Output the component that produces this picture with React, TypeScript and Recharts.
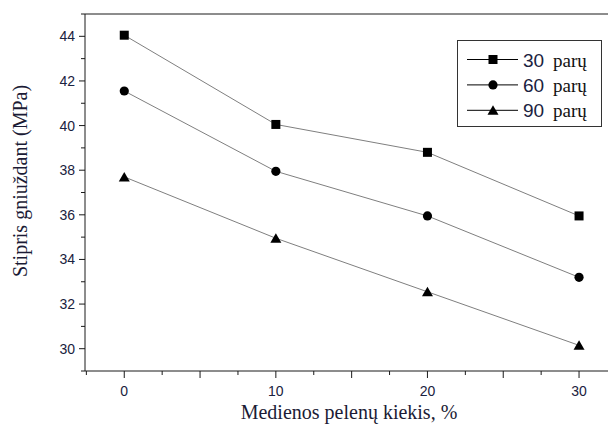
import { Legend, Line, LineChart, ReferenceLine, XAxis, YAxis } from 'recharts';

// Compressive strength vs. wood ash content, after 30 / 60 / 90 days of curing
const ashContent = [0, 10, 20, 30];
const strength30 = [44.05, 40.05, 38.8, 35.95];
const strength60 = [41.55, 37.95, 35.95, 33.2];
const strength90 = [37.7, 34.95, 32.55, 30.15];

const xTicks = [-2.5, 0, 2.5, 5, 7.5, 10, 12.5, 15, 17.5, 20, 22.5, 25, 27.5, 30];
const yTicks = [29, 30, 31, 32, 33, 34, 35, 36, 37, 38, 39, 40, 41, 42, 43, 44, 45];

const series = [
  { key: 's30', days: '30', shape: 'square' },
  { key: 's60', days: '60', shape: 'circle' },
  { key: 's90', days: '90', shape: 'triangle' },
] as const;

const data = ashContent.map((x, i) => ({
  x,
  s30: strength30[i],
  s60: strength60[i],
  s90: strength90[i],
}));

const AXIS = '#1a1a1a';
const LINE = '#7f7f7f';
const TEXT = '#1a2240';
const SANS = '"Liberation Sans", Arial, sans-serif';
const SERIF = '"Liberation Serif", "Times New Roman", serif';

type Shape = 'square' | 'circle' | 'triangle';

function Marker({ cx, cy, shape }: { cx: number; cy: number; shape: Shape }) {
  if (shape === 'square') return <rect x={cx - 4.5} y={cy - 4.5} width={9} height={9} fill="#000" />;
  if (shape === 'circle') return <circle cx={cx} cy={cy} r={4.6} fill="#000" />;
  return <polygon points={`${cx},${cy - 5} ${cx - 5.5},${cy + 4.5} ${cx + 5.5},${cy + 4.5}`} fill="#000" />;
}

function XTick({ x, y, payload }: any) {
  const v = payload.value as number;
  const major = v % 5 === 0;
  return (
    <g>
      <line x1={x} x2={x} y1={y} y2={y + (major ? 7 : 4)} stroke={AXIS} />
      {v % 10 === 0 && (
        <text x={x} y={y + 25} textAnchor="middle" fontFamily={SANS} fontSize={14} fill={TEXT}>
          {v}
        </text>
      )}
    </g>
  );
}

function YTick({ x, y, payload }: any) {
  const v = payload.value as number;
  const major = v % 2 === 0;
  return (
    <g>
      <line x1={x} x2={x - (major ? 6 : 4)} y1={y} y2={y} stroke={AXIS} />
      {major && (
        <text x={x - 10} y={y + 5} textAnchor="end" fontFamily={SANS} fontSize={14} fill={TEXT}>
          {v}
        </text>
      )}
    </g>
  );
}

function LegendBox() {
  return (
    <svg width={145} height={87}>
      <rect x={0.5} y={0.5} width={144} height={86} fill="#fff" stroke="#333" />
      {series.map((s, i) => {
        const cy = 19.5 + i * 25.4;
        return (
          <g key={s.key}>
            <line x1={10} x2={61} y1={cy} y2={cy} stroke="#000" />
            <Marker cx={36} cy={cy} shape={s.shape} />
            <text x={66} y={cy + 7} fontFamily={SANS} fontSize={19} fill={TEXT}>
              {s.days}
            </text>
            <text x={96} y={cy + 7} fontFamily={SERIF} fontSize={19} fill="#111">
              parų
            </text>
          </g>
        );
      })}
    </svg>
  );
}

export default function App() {
  return (
    <div style={{ position: 'fixed', left: 0, top: 0, width: 608, height: 424, background: '#fff' }}>
      <LineChart width={608} height={424} data={data} margin={{ top: 14, right: 0, bottom: 0, left: 0 }}>
        <XAxis
          dataKey="x"
          type="number"
          domain={[-2.59, 31.91]}
          allowDataOverflow
          ticks={xTicks}
          interval={0}
          tickSize={0}
          tickMargin={0}
          tick={<XTick />}
          height={53}
          axisLine={{ stroke: AXIS }}
          label={{
            content: () => (
              <text x={349} y={419} textAnchor="middle" fontFamily={SERIF} fontSize={20} fill="#1b1b35">
                Medienos pelenų kiekis, %
              </text>
            ),
          }}
        />
        <YAxis
          type="number"
          domain={[29, 45]}
          allowDataOverflow
          ticks={yTicks}
          interval={0}
          tickSize={0}
          tickMargin={0}
          tick={<YTick />}
          width={85}
          axisLine={{ stroke: AXIS }}
          label={{
            content: () => (
              <text
                x={27}
                y={181}
                transform="rotate(-90 27 181)"
                textAnchor="middle"
                fontFamily={SERIF}
                fontSize={20}
                fill="#1b1b35"
              >
                Stipris gniuždant (MPa)
              </text>
            ),
          }}
        />
        <ReferenceLine y={45} stroke={AXIS} />
        {series.map((s) => (
          <Line
            key={s.key}
            dataKey={s.key}
            type="linear"
            stroke={LINE}
            strokeWidth={1}
            isAnimationActive={false}
            activeDot={false}
            dot={(p: any) => <Marker key={`${s.key}-${p.index}`} cx={p.cx} cy={p.cy} shape={s.shape} />}
          />
        ))}
        <Legend
          layout="vertical"
          align="center"
          verticalAlign="middle"
          content={() => <LegendBox />}
          wrapperStyle={{ left: 457, top: 40, width: 145, height: 87 }}
        />
      </LineChart>
    </div>
  );
}
